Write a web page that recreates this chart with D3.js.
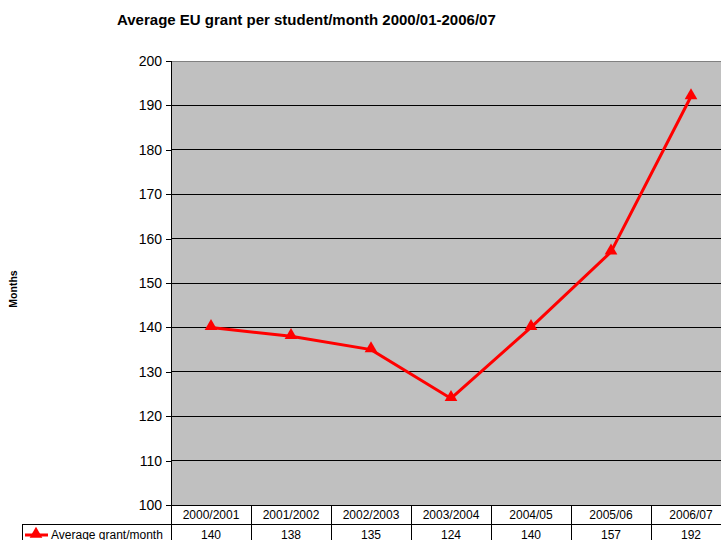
<!DOCTYPE html>
<html><head><meta charset="utf-8">
<script src="https://cdn.jsdelivr.net/npm/d3@7"></script>
<style>body{margin:0;background:#fff}svg{display:block}text{font-family:"Liberation Sans",Arial,sans-serif}</style>
</head><body>
<script>
const categories = ["2000/2001","2001/2002","2002/2003","2003/2004","2004/05","2005/06","2006/07"];
const values = [140,138,135,124,140,157,192];
const yTicks = [100,110,120,130,140,150,160,170,180,190,200];
const seriesName = "Average grant/month";

const W = 721, H = 540;
const L = 171, T = 61, B = 505, R = 731;
const svg = d3.select("body").append("svg").attr("width", W).attr("height", H);

const x = d3.scaleBand().domain(categories).range([L, R]);
const y = d3.scaleLinear().domain([100, 200]).range([B, T]);

svg.append("rect").attr("x", L).attr("y", T).attr("width", R - L).attr("height", B - T).attr("fill", "#c0c0c0");

// gridlines
svg.append("g").selectAll("line").data(yTicks.filter(d => d > 100 && d < 200)).join("line")
  .attr("x1", L).attr("x2", R).attr("y1", d => y(d)).attr("y2", d => y(d))
  .attr("stroke", "#000").attr("stroke-width", 1).attr("shape-rendering", "crispEdges");
svg.append("line").attr("x1", L).attr("x2", R).attr("y1", T).attr("y2", T)
  .attr("stroke", "#808080").attr("stroke-width", 1).attr("shape-rendering", "crispEdges");

// y axis
const yAxis = d3.axisLeft(y).tickValues(yTicks).tickSize(5).tickPadding(4);
const ga = svg.append("g").attr("transform", `translate(${L},0)`).call(yAxis);
ga.select(".domain").attr("stroke", "#000");
ga.selectAll(".tick line").attr("stroke", "#000");
ga.selectAll(".tick text").attr("font-size", 14).attr("fill", "#000").attr("font-family", '"Liberation Sans",Arial,sans-serif');
ga.attr("shape-rendering", "crispEdges");

// line
const line = d3.line().x((d, i) => x(categories[i]) + x.bandwidth() / 2).y(d => y(d));
svg.append("path").datum(values).attr("d", line).attr("fill", "none").attr("stroke", "#ff0000").attr("stroke-width", 3);
const tri = d3.symbol().type(d3.symbolTriangle).size(70);
svg.append("g").selectAll("path").data(values).join("path")
  .attr("d", tri).attr("fill", "#ff0000")
  .attr("transform", (d, i) => `translate(${x(categories[i]) + x.bandwidth() / 2},${y(d) - 1})`);

// data table
const rowH = 19, r1 = B, r2 = B + rowH, legL = 22;
const tg = svg.append("g").attr("shape-rendering", "crispEdges");
tg.append("line").attr("x1", L).attr("x2", R).attr("y1", r1).attr("y2", r1).attr("stroke", "#000");
tg.append("line").attr("x1", legL).attr("x2", R).attr("y1", r2).attr("y2", r2).attr("stroke", "#000");
tg.append("line").attr("x1", legL).attr("x2", legL).attr("y1", r2).attr("y2", H + 10).attr("stroke", "#000");
tg.selectAll(".v").data(categories).join("line")
  .attr("x1", d => x(d) + x.bandwidth()).attr("x2", d => x(d) + x.bandwidth())
  .attr("y1", r1).attr("y2", H + 10).attr("stroke", "#000");
tg.append("line").attr("x1", L).attr("x2", L).attr("y1", T).attr("y2", H + 10).attr("stroke", "#000");

svg.append("g").selectAll("text").data(categories).join("text")
  .attr("x", d => x(d) + x.bandwidth() / 2).attr("y", r1 + 14).attr("text-anchor", "middle")
  .attr("font-size", 12).text(d => d);
svg.append("g").selectAll("text").data(values).join("text")
  .attr("x", (d, i) => x(categories[i]) + x.bandwidth() / 2).attr("y", r2 + 15).attr("text-anchor", "middle")
  .attr("font-size", 12).text(d => d);

// legend key
svg.append("line").attr("x1", 25).attr("x2", 48).attr("y1", r2 + 11).attr("y2", r2 + 11).attr("stroke", "#ff0000").attr("stroke-width", 3);
svg.append("path").attr("d", tri).attr("fill", "#ff0000").attr("transform", `translate(36,${r2 + 10})`);
svg.append("text").attr("x", 51).attr("y", r2 + 15).attr("font-size", 12).text(seriesName);

// title
svg.append("text").attr("x", 117).attr("y", 25).attr("font-size", 15).attr("font-weight", "bold").text("Average EU grant per student/month 2000/01-2006/07");

// y label
svg.append("text").attr("transform", "translate(17,289) rotate(-90)").attr("text-anchor", "middle")
  .attr("font-size", 10.5).attr("font-weight", "bold").text("Months");
</script>
</body></html>
